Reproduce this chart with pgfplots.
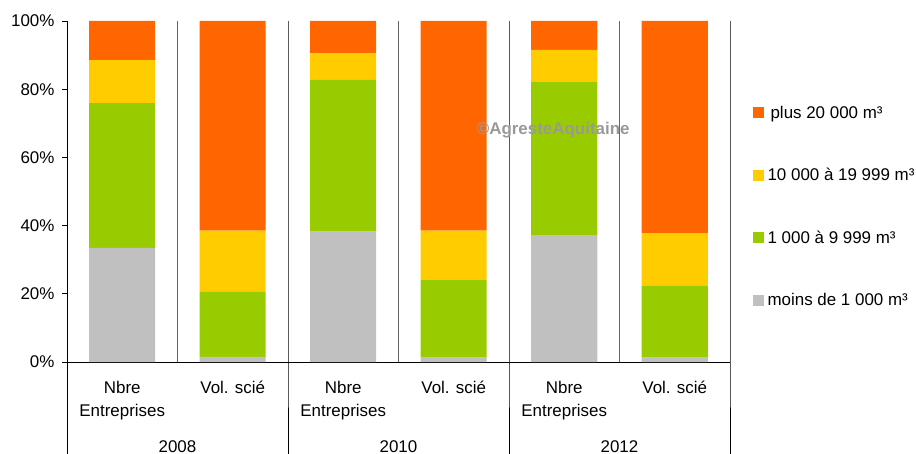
\documentclass[border=0pt]{standalone}
\usepackage{fontspec}
\setmainfont{Liberation Sans}
\usepackage{pgfplots}
\pgfplotsset{compat=1.18}
\definecolor{cOrange}{HTML}{FF6600}
\definecolor{cYellow}{HTML}{FFCC00}
\definecolor{cGreen}{HTML}{99CC00}
\definecolor{cGray}{HTML}{C0C0C0}
\newcommand{\lblfont}{\fontsize{17}{23}\selectfont}

\begin{document}
\begin{tikzpicture}
\begin{axis}[
    scale only axis,
    width=663bp, height=341bp,
    ybar stacked, bar width=66bp,
    xmin=-0.5, xmax=5.5, ymin=0, ymax=100,
    axis x line*=bottom, axis y line*=left,
    axis line style={line width=0.8bp, -},
    xtick={0,1,2,3,4,5},
    xticklabels={Nbre\\Entreprises, Vol. scié, Nbre\\Entreprises, Vol. scié, Nbre\\Entreprises, Vol. scié},
    xticklabel style={align=center, font=\lblfont, yshift=-11bp},
    x tick style={draw=none},
    ytick={0,20,40,60,80,100},
    yticklabel={\pgfmathprintnumber{\tick}\%},
    yticklabel style={font=\lblfont, xshift=-4bp},
    /pgf/number format/assume math mode=true,
    y tick style={line width=0.8bp, black},
    tick align=outside, major tick length=5bp,
    clip=false,
    legend image code/.code={\fill[#1,draw=none] (0bp,-5.5bp) rectangle (11bp,5.5bp);},
    reverse legend,
    legend cell align=left,
    legend style={at={(1.03,0.456)}, anchor=west, draw=none, fill=none,
        font=\lblfont, row sep=44.5bp,
        nodes={inner xsep=3.5bp}},
]
\addplot[fill=cGray, draw=none] coordinates {(0,33.5) (1,1.5) (2,38.2) (3,1.3) (4,37.2) (5,1.3)};
\addplot[fill=cGreen, draw=none] coordinates {(0,42.4) (1,19.1) (2,44.5) (3,22.7) (4,44.9) (5,21.0)};
\addplot[fill=cYellow, draw=none] coordinates {(0,12.6) (1,17.9) (2,7.9) (3,14.5) (4,9.4) (5,15.5)};
\addplot[fill=cOrange, draw=none] coordinates {(0,11.5) (1,61.5) (2,9.4) (3,61.5) (4,8.5) (5,62.2)};
\legend{moins de 1 000 m³, 1 000 à 9 999 m³, 10 000 à 19 999 m³, \hspace{3bp}plus 20 000 m³}

% separators
\draw[black!60, line width=0.8bp] (axis cs:0.5,0) -- (axis cs:0.5,100);
\draw[black!60, line width=0.8bp] (axis cs:2.5,0) -- (axis cs:2.5,100);
\draw[black!60, line width=0.8bp] (axis cs:4.5,0) -- (axis cs:4.5,100);
\draw[line width=0.8bp] (axis cs:-0.5,0) -- ++(0bp,-92bp);
\draw[line width=0.8bp] (axis cs:1.5,100) -- (axis cs:1.5,0) -- ++(0bp,-92bp);
\draw[line width=0.8bp] (axis cs:3.5,100) -- (axis cs:3.5,0) -- ++(0bp,-92bp);
\draw[line width=0.8bp] (axis cs:5.5,100) -- (axis cs:5.5,0) -- ++(0bp,-92bp);

% years
\node[font=\lblfont, anchor=base] at (axis cs:0.5,0) [yshift=-90bp] {2008};
\node[font=\lblfont, anchor=base] at (axis cs:2.5,0) [yshift=-90bp] {2010};
\node[font=\lblfont, anchor=base] at (axis cs:4.5,0) [yshift=-90bp] {2012};

\coordinate (wm) at (axis cs:3.9,67.9);
\coordinate (o) at (rel axis cs:0,0);
\end{axis}
% watermark, on top of the bars
\node[font=\fontsize{17}{20}\selectfont\bfseries, text=black!40] at (wm) {©AgresteAquitaine};
\pgfresetboundingbox
\path[use as bounding box] (o) ++(-67bp,-92bp) rectangle ++(916bp,454bp);
\end{tikzpicture}
\end{document}
